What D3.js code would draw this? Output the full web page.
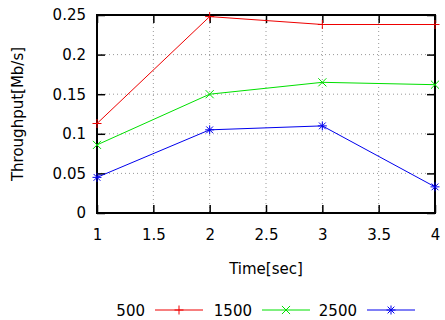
<!DOCTYPE html>
<html><head><meta charset="utf-8">
<script src="https://cdn.jsdelivr.net/npm/d3@7/dist/d3.min.js"></script>
<style>body{margin:0;background:#fff}svg{display:block}text{font-family:"DejaVu Sans",sans-serif}</style>
</head><body><svg id="c" width="445" height="320"></svg>
<script>
const times = [1, 2, 3, 4];
const seriesNames = ["500", "1500", "2500"];
const s500 = [0.113, 0.248, 0.238, 0.238];
const s1500 = [0.086, 0.150, 0.165, 0.162];
const s2500 = [0.045, 0.105, 0.110, 0.033];
const xTicks = [1, 1.5, 2, 2.5, 3, 3.5, 4];
const yTicks = [0, 0.05, 0.1, 0.15, 0.2, 0.25];
const colors = ["#ee0000", "#00e000", "#0000ee"];
const markers = ["plus", "cross", "star"];
const allSeries = [s500, s1500, s2500];

const svg = d3.select("#c");
const L = 97, R = 435, T = 15, B = 213;
const x = d3.scaleLinear().domain([1, 4]).range([L, R]);
const y = d3.scaleLinear().domain([0, 0.25]).range([B, T]);
const fmtY = d => d === 0 ? "0" : String(d);

// grid
const g = svg.append("g");
xTicks.slice(1, -1).forEach(t => g.append("line").attr("x1", x(t)).attr("x2", x(t)).attr("y1", T).attr("y2", B)
  .attr("stroke", "#999").attr("stroke-dasharray", "1,3"));
yTicks.slice(1, -1).forEach(t => g.append("line").attr("x1", L).attr("x2", R).attr("y1", y(t)).attr("y2", y(t))
  .attr("stroke", "#999").attr("stroke-dasharray", "1,3"));

// axes (inward ticks) with labels
const tl = 8;
const ax = svg.append("g").attr("transform", `translate(0,${B})`)
  .call(d3.axisBottom(x).tickValues(xTicks).tickSize(-tl).tickPadding(16).tickFormat(d3.format("")));
const ay = svg.append("g").attr("transform", `translate(${L},0)`)
  .call(d3.axisLeft(y).tickValues(yTicks).tickSize(-tl).tickPadding(11).tickFormat(fmtY));
const axt = svg.append("g").attr("transform", `translate(0,${T})`)
  .call(d3.axisTop(x).tickValues(xTicks).tickSize(-tl).tickFormat(""));
const ayr = svg.append("g").attr("transform", `translate(${R},0)`)
  .call(d3.axisRight(y).tickValues(yTicks).tickSize(-tl).tickFormat(""));
[ax, ay, axt, ayr].forEach(a => {
  a.select(".domain").remove();
  a.selectAll(".tick line").attr("stroke", "#000").attr("stroke-width", 1.5);
  a.selectAll("text").attr("font-size", 15).attr("fill", "#000").attr("font-family", "DejaVu Sans");
});
svg.append("rect").attr("x", L).attr("y", T).attr("width", R - L).attr("height", B - T)
  .attr("fill", "none").attr("stroke", "#000").attr("stroke-width", 2);

function marker(sel, type, cx, cy, color) {
  const s = 4.5;
  const gg = sel.append("g").attr("stroke", color).attr("stroke-width", 1);
  if (type === "plus" || type === "star") {
    gg.append("line").attr("x1", cx - s).attr("x2", cx + s).attr("y1", cy).attr("y2", cy);
    gg.append("line").attr("x1", cx).attr("x2", cx).attr("y1", cy - s).attr("y2", cy + s);
  }
  if (type === "cross" || type === "star") {
    const d = type === "star" ? s * 0.75 : s * 0.9;
    gg.append("line").attr("x1", cx - d).attr("x2", cx + d).attr("y1", cy - d).attr("y2", cy + d);
    gg.append("line").attr("x1", cx - d).attr("x2", cx + d).attr("y1", cy + d).attr("y2", cy - d);
  }
}

const line = d3.line().x((d, i) => x(times[i])).y(d => y(d));
allSeries.forEach((s, k) => {
  svg.append("path").datum(s).attr("d", line).attr("fill", "none").attr("stroke", colors[k]).attr("stroke-width", 1);
  s.forEach((v, i) => marker(svg, markers[k], x(times[i]), y(v), colors[k]));
});

// axis titles
svg.append("text").attr("x", (L + R) / 2).attr("y", 274).attr("text-anchor", "middle")
  .attr("font-size", 15).text("Time[sec]");
svg.append("text").attr("transform", `translate(23,${(T + B) / 2}) rotate(-90)`).attr("text-anchor", "middle")
  .attr("font-size", 15).text("Throughput[Mb/s]");

// legend
const legX = [145, 252, 357];
legX.forEach((lx, k) => {
  svg.append("text").attr("x", lx).attr("y", 316).attr("text-anchor", "end").attr("font-size", 15).text(seriesNames[k]);
  const x0 = lx + 10, x1 = lx + 58;
  svg.append("line").attr("x1", x0).attr("x2", x1).attr("y1", 310).attr("y2", 310).attr("stroke", colors[k]);
  marker(svg, markers[k], (x0 + x1) / 2, 310, colors[k]);
});
</script></body></html>
